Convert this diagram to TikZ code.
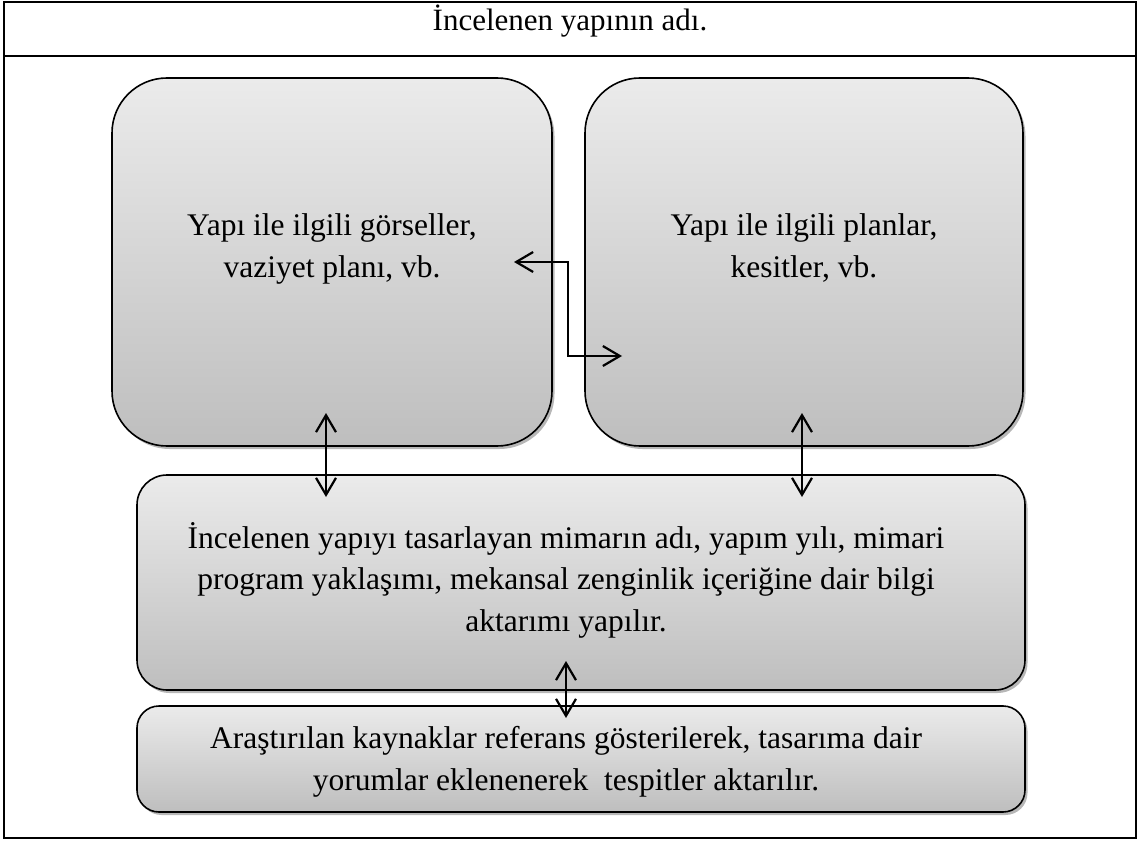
\documentclass[tikz,border=0pt]{standalone}
\usepackage{fontspec}
\setmainfont{Liberation Serif}
\usetikzlibrary{arrows.meta,shadows,calc}
\definecolor{gtop}{HTML}{EBEBEB}
\definecolor{gbot}{HTML}{BEBEBE}
\tikzset{
  gbox/.style={draw=black,line width=1.6pt,top color=gtop,bottom color=gbot,
    drop shadow={shadow xshift=2.5pt,shadow yshift=-3pt,fill=gray!80,opacity=0.7}},
  frame/.style={draw=black,line width=2.2pt},
  txt/.style={align=center,font=\fontsize{31.5}{41.5}\selectfont,inner sep=0pt},
  ttl/.style={font=\fontsize{31}{36}\selectfont,inner sep=0pt},
  dbl/.style={line width=2.2pt,{Straight Barb[length=17pt,width=20pt,line width=2.2pt]}-{Straight Barb[length=17pt,width=20pt,line width=2.2pt]}}
}
\begin{document}
\begin{tikzpicture}[x=1pt,y=-1pt]
\useasboundingbox (0,0) rectangle (1138,842);
% outer frame
\draw[frame] (4,2) rectangle (1136,838);
\draw[frame] (4,56) -- (1136,56);
\node[ttl,anchor=base] (title) at (570,30.5) {İncelenen yapının adı.};
% boxes
\path[gbox,rounded corners=55pt] (112,78) rectangle (552,446);
\path[gbox,rounded corners=55pt] (585,78) rectangle (1023,446);
\path[gbox,rounded corners=30pt] (137,475) rectangle (1025,690);
\path[gbox,rounded corners=22pt] (137,706) rectangle (1025,812);
\node[txt] (t1) at (332,249) {Yapı ile ilgili görseller,\\vaziyet planı, vb.};
\node[txt] (t2) at (804,248) {Yapı ile ilgili planlar,\\kesitler, vb.};
\node[txt] (t3) at (566,580) {İncelenen yapıyı tasarlayan mimarın adı, yapım yılı, mimari\\program yaklaşımı, mekansal zenginlik içeriğine dair bilgi\\aktarımı yapılır.};
\node[txt] (t4) at (566,762) {Araştırılan kaynaklar referans gösterilerek, tasarıma dair\\yorumlar eklenenerek\ \ tespitler aktarılır.};
% connectors
\coordinate (a1) at (326,413);
\coordinate (a2) at (326,497);
\coordinate (b1) at (802,413);
\coordinate (b2) at (802,497);
\coordinate (c1) at (566,661);
\coordinate (c2) at (566,718);
\coordinate (e1) at (514,262);
\coordinate (e2) at (622,356);
\draw[dbl] (a1) -- (a2);
\draw[dbl] (b1) -- (b2);
\draw[dbl] (c1) -- (c2);
\draw[dbl] (e1) -- ($(e1)+(54,0)$) |- (e2);
\end{tikzpicture}
\end{document}
